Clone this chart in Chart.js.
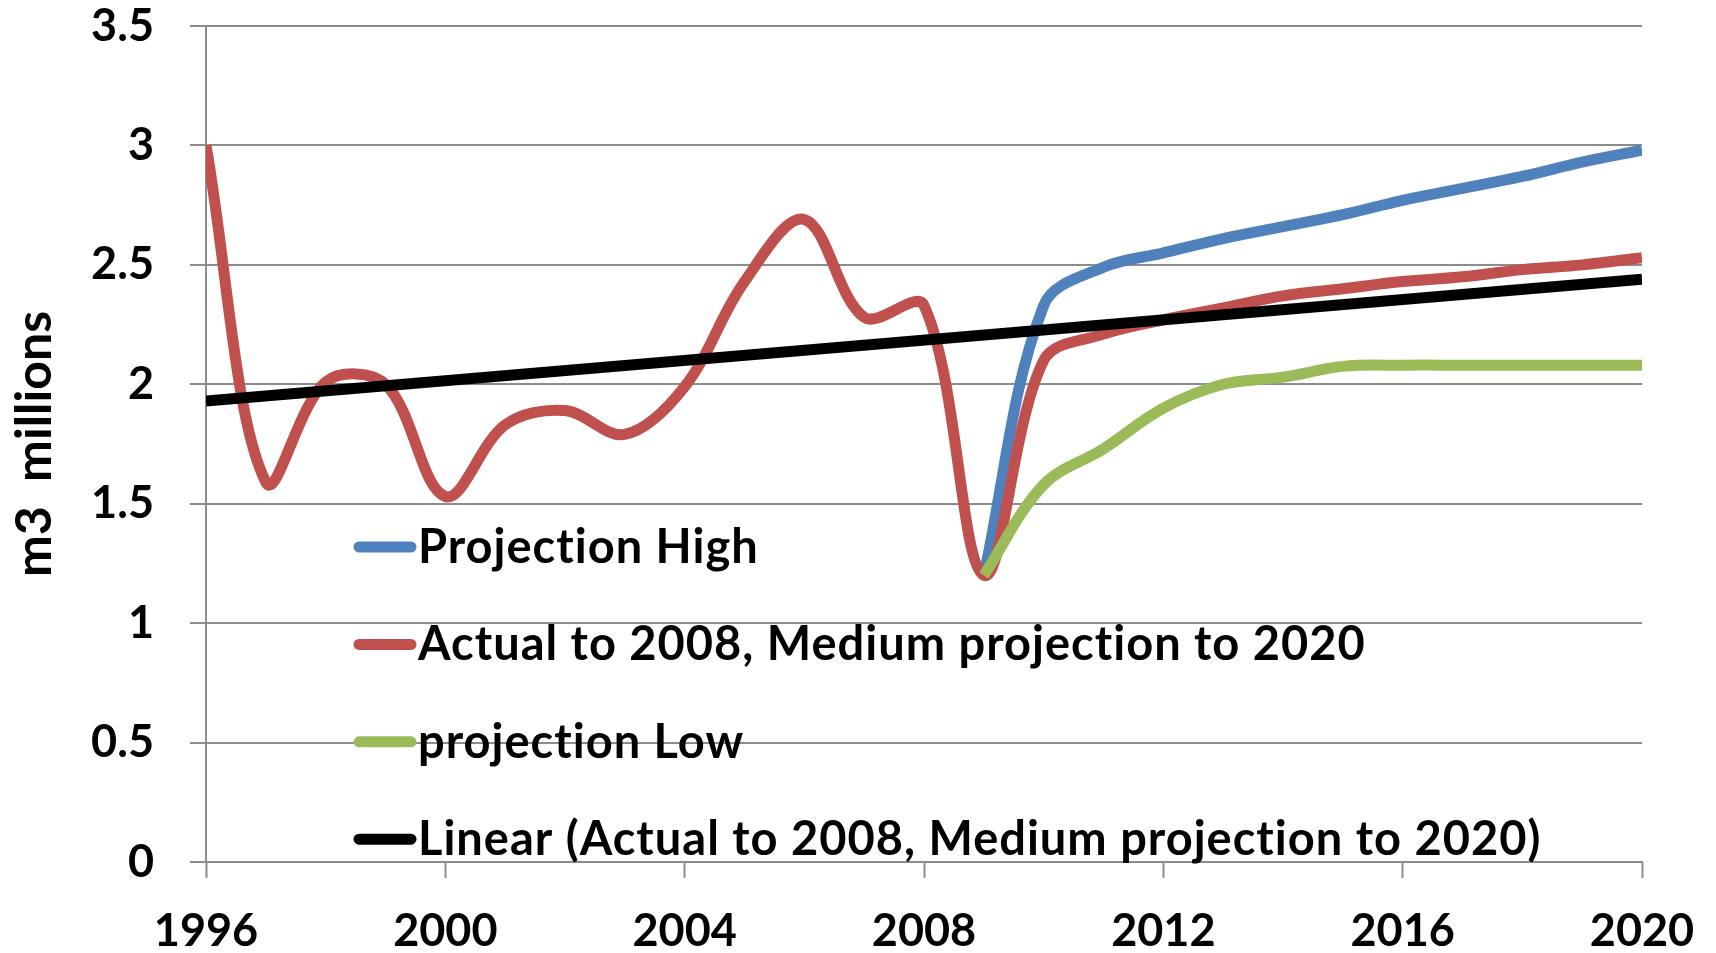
<!DOCTYPE html>
<html lang="en">
<head>
    <meta charset="UTF-8">
    <title>m3 millions 1996-2020</title>
    <script src="https://cdn.jsdelivr.net/npm/chart.js"></script>
    <style>
        body {
            margin: 0;
            background: #ffffff;
        }
        #chart {
            display: block;
        }
    </style>
</head>
<body>
    <canvas id="chart" width="1716" height="953"></canvas>

    <script>
        const years = [1996, 1997, 1998, 1999, 2000, 2001, 2002, 2003, 2004, 2005, 2006, 2007, 2008,
                       2009, 2010, 2011, 2012, 2013, 2014, 2015, 2016, 2017, 2018, 2019, 2020];

        const projectionHigh = [null, null, null, null, null, null, null, null, null, null, null, null, null,
                                1.2, 2.33, 2.49, 2.55, 2.61, 2.66, 2.71, 2.77, 2.82, 2.87, 2.93, 2.98];
        const actualMedium = [3.0, 1.59, 2.01, 2.0, 1.53, 1.83, 1.89, 1.79, 1.99, 2.43, 2.69, 2.28, 2.33,
                              1.2, 2.1, 2.21, 2.27, 2.32, 2.37, 2.40, 2.43, 2.45, 2.48, 2.50, 2.53];
        const projectionLow = [null, null, null, null, null, null, null, null, null, null, null, null, null,
                               1.2, 1.58, 1.73, 1.90, 2.0, 2.03, 2.075, 2.08, 2.08, 2.08, 2.08, 2.08];

        const trendYears = [1996, 2020];
        const trendValues = [1.93, 2.44];

        const seriesNames = ['Projection High', 'Actual to 2008, Medium projection to 2020',
                             'projection Low', 'Linear (Actual to 2008, Medium projection to 2020)'];
        const seriesColors = ['#4F81BD', '#C0504D', '#9BBB59', '#000000'];

        const yTicks = [0, 0.5, 1, 1.5, 2, 2.5, 3, 3.5];

        const fontFamily = "Lato, 'Open Sans', sans-serif";
        const gridGrey = '#8c8c8c';

        function toPoints(xs, ys) {
            return xs.map((x, i) => ({ x: x, y: ys[i] }));
        }

        // legend sits inside the plot, under the curves, like the Excel original
        const insideLegend = {
            id: 'insideLegend',
            afterDraw(chart) {
                const ctx = chart.ctx;
                ctx.save();
                ctx.font = 'bold 47px ' + fontFamily;
                ctx.letterSpacing = '1px';
                ctx.textAlign = 'left';
                ctx.textBaseline = 'alphabetic';
                seriesNames.forEach((name, i) => {
                    const y = 547 + i * 97.4;
                    ctx.strokeStyle = seriesColors[i];
                    ctx.lineWidth = 11;
                    ctx.lineCap = 'round';
                    ctx.beginPath();
                    ctx.moveTo(359, y);
                    ctx.lineTo(411, y);
                    ctx.stroke();
                    ctx.fillStyle = '#000000';
                    ctx.fillText(name, 418, y + 16);
                });
                ctx.restore();
            }
        };

        const ctx = document.getElementById('chart').getContext('2d');

        const myChart = new Chart(ctx, {
            type: 'line',
            data: {
                datasets: [
                    {
                        label: seriesNames[0],
                        data: toPoints(years, projectionHigh),
                        borderColor: seriesColors[0],
                        order: 4
                    },
                    {
                        label: seriesNames[1],
                        data: toPoints(years, actualMedium),
                        borderColor: seriesColors[1],
                        order: 3
                    },
                    {
                        label: seriesNames[2],
                        data: toPoints(years, projectionLow),
                        borderColor: seriesColors[2],
                        order: 2
                    },
                    {
                        label: seriesNames[3],
                        data: toPoints(trendYears, trendValues),
                        borderColor: seriesColors[3],
                        tension: 0,
                        order: 1
                    }
                ]
            },
            options: {
                responsive: false,
                animation: false,
                layout: {
                    padding: { top: 26, right: 74, bottom: 0, left: 0 }
                },
                elements: {
                    point: { radius: 0, hoverRadius: 0 },
                    line: { borderWidth: 11, tension: 0.35, fill: false, borderJoinStyle: 'round' }
                },
                plugins: {
                    legend: { display: false },
                    tooltip: { enabled: false }
                },
                scales: {
                    x: {
                        type: 'linear',
                        min: years[0],
                        max: years[years.length - 1],
                        ticks: {
                            stepSize: 4,
                            padding: 26,
                            color: '#000000',
                            font: { family: fontFamily, size: 45, weight: 'bold' },
                            callback: (value) => String(value)
                        },
                        grid: {
                            drawOnChartArea: false,
                            drawTicks: true,
                            tickLength: 16,
                            tickColor: gridGrey,
                            tickWidth: 2
                        },
                        border: { color: gridGrey, width: 2 },
                        afterFit: (scale) => {
                            scale.height = 91;
                            scale.paddingLeft = 0;
                            scale.paddingRight = 0;
                        }
                    },
                    y: {
                        min: yTicks[0],
                        max: yTicks[yTicks.length - 1],
                        afterBuildTicks: (scale) => {
                            scale.ticks = yTicks.map(v => ({ value: v }));
                        },
                        ticks: {
                            padding: 36,
                            color: '#000000',
                            font: { family: fontFamily, size: 45, weight: 'bold' },
                            callback: (value) => String(value)
                        },
                        grid: {
                            color: gridGrey,
                            lineWidth: 2,
                            tickLength: 16
                        },
                        border: { color: gridGrey, width: 2 },
                        title: {
                            display: true,
                            text: 'm3  millions',
                            color: '#000000',
                            font: { family: fontFamily, size: 50, weight: 'bold' },
                            padding: { top: 5, bottom: 0 }
                        },
                        afterFit: (scale) => {
                            scale.width = 206;
                            scale.paddingTop = 0;
                            scale.paddingBottom = 0;
                        }
                    }
                }
            },
            plugins: [insideLegend]
        });
    </script>
</body>
</html>
